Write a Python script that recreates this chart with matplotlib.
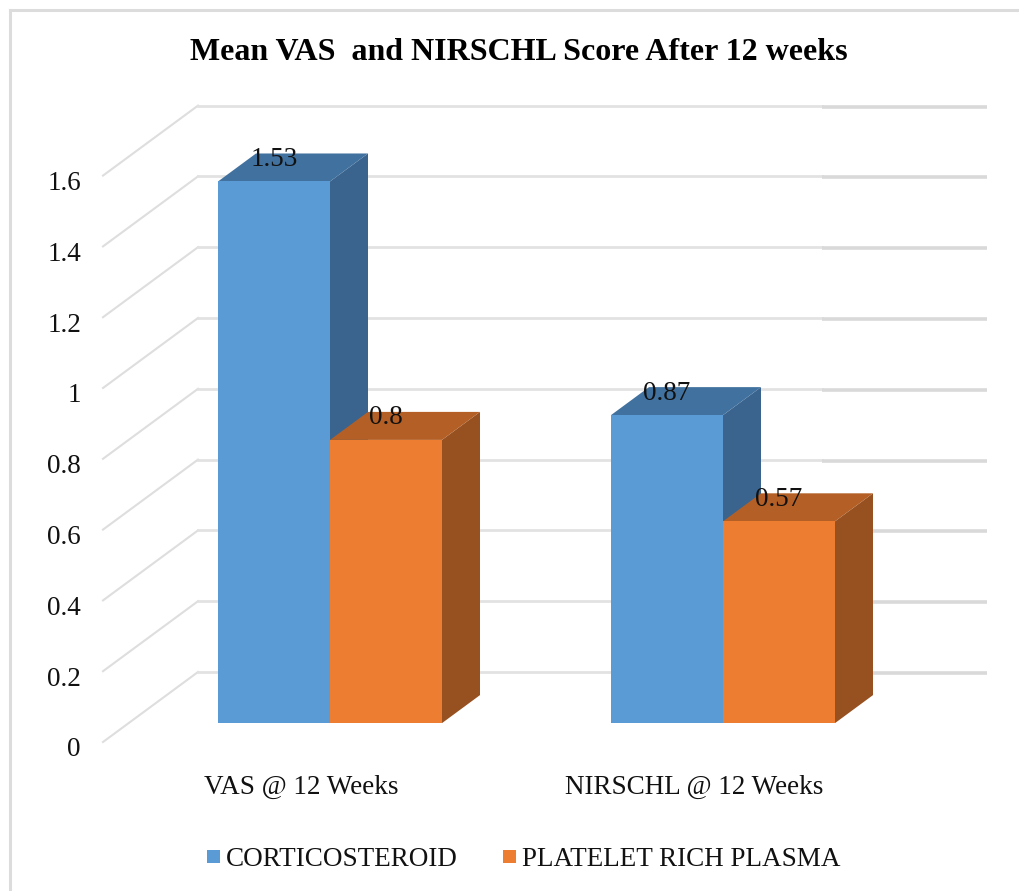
import matplotlib
matplotlib.use("Agg")
import matplotlib.pyplot as plt
from matplotlib.patches import Polygon, Rectangle

categories = ["VAS @ 12 Weeks", "NIRSCHL @ 12 Weeks"]
series_names = ["CORTICOSTEROID", "PLATELET RICH PLASMA"]
corticosteroid = [1.53, 0.87]
prp = [0.8, 0.57]
y_ticks = [0, 0.2, 0.4, 0.6, 0.8, 1, 1.2, 1.4, 1.6]
title = "Mean VAS  and NIRSCHL Score After 12 weeks"

W, H = 1019, 891
PX_CAT, PX_VAL = 393.0, 354.0
X0, Y0 = 330.0, 742.0
DX, DY = 95.0 / PX_CAT, 70.0 / PX_VAL   # oblique offset of full depth

plt.rcParams['font.family'] = ['Liberation Serif', 'DejaVu Serif']
fig = plt.figure(figsize=(W / 100, H / 100), dpi=100)
ax = fig.add_axes([0, 0, 1, 1])
ax.set_xlim(-X0 / PX_CAT, (W - X0) / PX_CAT)
ax.set_ylim((Y0 - H) / PX_VAL, Y0 / PX_VAL)
ax.axis("off")

def proj(x, y, d):
    return (x + DX * d, y + DY * d)

GRID = "#d9d9d9"
TXT = "#111111"
xl = -227.0 / PX_CAT
xr = 657.0 / PX_CAT - DX
xm = (822 - X0) / PX_CAT - DX
for t in y_ticks:
    a, b, m, c = (xl, t), proj(xl, t, 1), proj(xm, t, 1), proj(xr, t, 1)
    ax.plot([a[0], b[0]], [a[1], b[1]], color="#dedede", lw=1.5, zorder=1)
    ax.plot([b[0], m[0]], [b[1], m[1]], color="#e2e2e2", lw=2.0, zorder=1)
    ax.plot([m[0], c[0]], [m[1] - 1 / PX_VAL, c[1] - 1 / PX_VAL], color=GRID, lw=2.6,
            solid_capstyle="butt", zorder=1)
    ax.text(xl - 22 / PX_CAT, t - 8 / PX_VAL, f"{t}", ha="right", va="center", fontsize=19.5, color=TXT)

BW = 112.0 / PX_CAT
D0, D1 = 0.27, 0.67
styles = [("#5b9bd5", "#3a648e", "#41719f"), ("#ed7d31", "#97501f", "#b35f25")]
for i in range(len(categories)):
    for j, vals in enumerate([corticosteroid, prp]):
        v = vals[i]
        x0 = i + (j - 1) * BW - DX * D0
        x1 = x0 + BW
        front, side, top = styles[j]
        f = [proj(x0, 0, D0), proj(x1, 0, D0), proj(x1, v, D0), proj(x0, v, D0)]
        s = [proj(x1, 0, D0), proj(x1, 0, D1), proj(x1, v, D1), proj(x1, v, D0)]
        tp = [proj(x0, v, D0), proj(x1, v, D0), proj(x1, v, D1), proj(x0, v, D1)]
        z = 3 + j
        ax.add_patch(Polygon(s, fc=side, ec="none", zorder=z))
        ax.add_patch(Polygon(tp, fc=top, ec="none", zorder=z))
        ax.add_patch(Polygon(f, fc=front, ec="none", zorder=z + 0.5))
        ax.text(x0 + DX * D0 + BW * 0.5, v + 41 / PX_VAL, f"{v}", ha="center", va="center",
                fontsize=19.5, color=TXT, zorder=10)

for i, c in enumerate(categories):
    ax.text(i - 29 / PX_CAT, -45 / PX_VAL, c, ha="center", va="center", fontsize=19.5, color=TXT)

ax.text((518.5 - X0) / PX_CAT, (Y0 - 52) / PX_VAL, title, ha="center", va="center",
        fontsize=23, fontweight="bold", color="black")

# legend
for name, px, tx, col in [(series_names[0], 207, 226, styles[0][0]), (series_names[1], 503, 522, styles[1][0])]:
    ax.add_patch(Rectangle(((px - X0) / PX_CAT, (Y0 - 863) / PX_VAL), 13 / PX_CAT, 13 / PX_VAL, fc=col, ec="none"))
    ax.text((tx - X0) / PX_CAT, (Y0 - 860) / PX_VAL, name, ha="left", va="center", fontsize=19.5, color=TXT)

# outer frame
ax.plot([(9.5 - X0) / PX_CAT, (9.5 - X0) / PX_CAT], [(Y0 - H) / PX_VAL, (Y0 - 9.5) / PX_VAL], color="#dcdcdc", lw=2.2)
ax.plot([(9.5 - X0) / PX_CAT, (W - X0) / PX_CAT], [(Y0 - 9.5) / PX_VAL] * 2, color="#dcdcdc", lw=2.2)

fig.savefig("out.png", dpi=100)
